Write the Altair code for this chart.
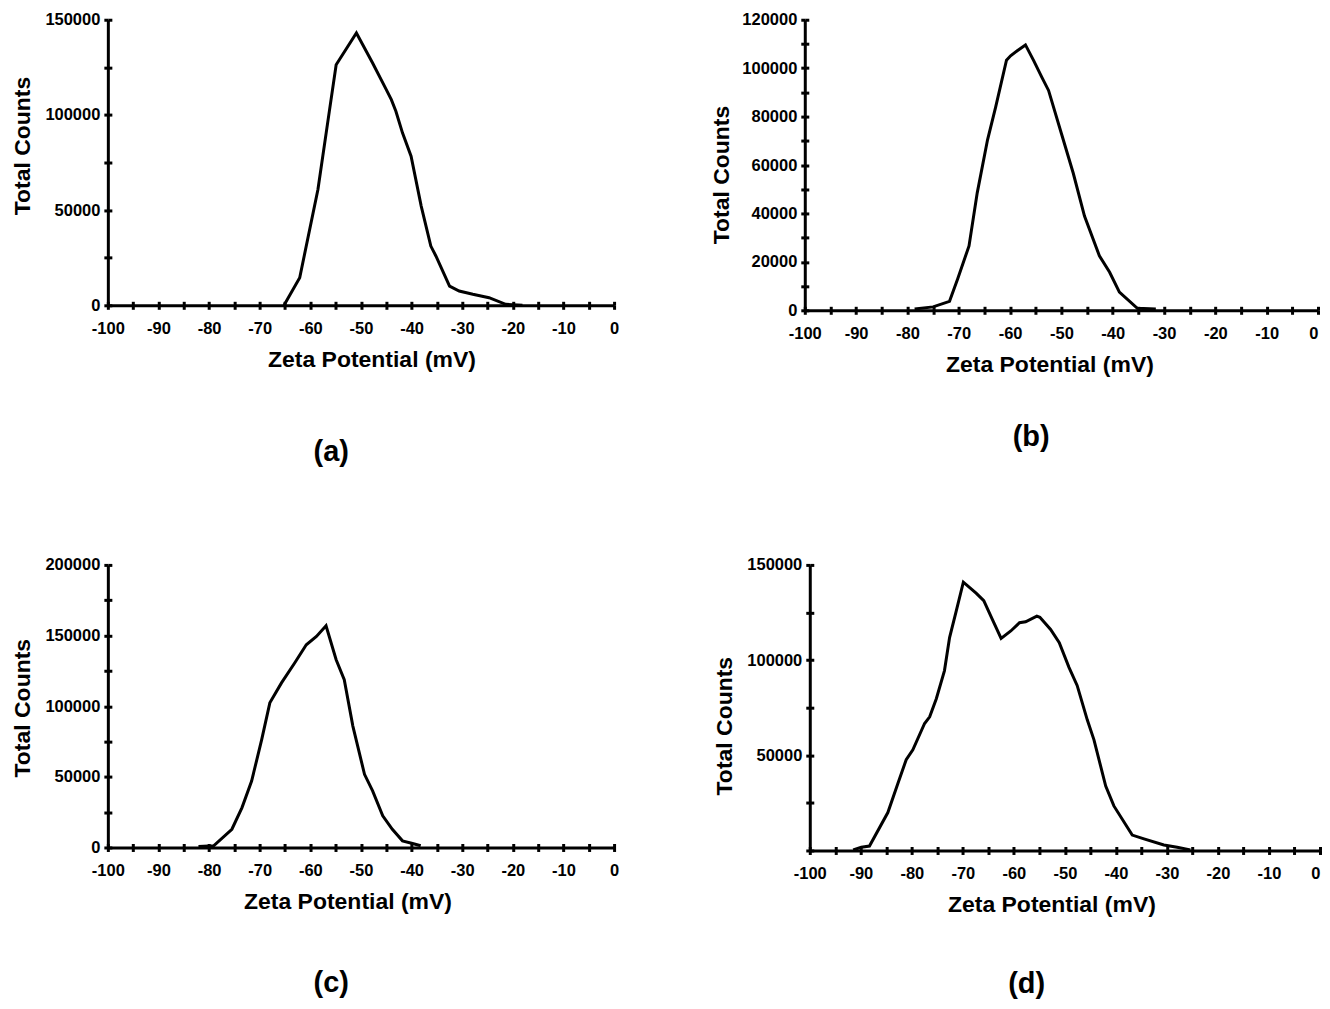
import altair as alt
import pandas as pd

# ---------------- data ----------------
a_zeta = [-65.2, -62.1, -58.5, -56.2, -54.9, -50.9, -47.7, -45.0, -44.0, -43.1, -41.8,
          -40.1, -38.1, -36.2, -35.2, -32.5, -30.6, -27.9, -24.7, -21.4, -18.1]
a_counts = [0, 14500, 60800, 102800, 126400, 143000, 127300, 113300, 108000, 101900, 90600,
            78300, 52100, 31100, 25900, 10100, 7500, 5800, 4000, 500, 0]

b_zeta = [-78.6, -75.0, -71.8, -70.2, -68.0, -66.4, -64.4, -62.8, -60.7, -59.9, -58.6,
          -57.0, -55.4, -53.8, -52.5, -50.0, -47.7, -45.5, -42.6, -40.6, -38.7, -35.2, -31.6]
b_counts = [500, 1400, 3700, 13000, 26600, 48500, 70300, 84000, 103300, 105100, 107200,
            109600, 103100, 96200, 90800, 73000, 56700, 38900, 22500, 15700, 7500, 800, 500]

c_zeta = [-82.1, -79.1, -75.5, -73.5, -71.6, -69.6, -68.0, -65.7, -63.1, -60.8, -58.8,
          -56.9, -54.9, -53.3, -51.6, -49.3, -47.7, -45.7, -43.8, -41.8, -39.8, -38.2]
c_counts = [700, 1200, 12900, 28200, 47000, 76500, 102400, 116500, 130600, 143500, 149400,
            156900, 132900, 118800, 85900, 51800, 40000, 22400, 12900, 4700, 2800, 1200]

d_zeta = [-91.5, -89.9, -88.3, -84.7, -82.7, -81.1, -79.8, -77.5, -76.5, -75.2, -73.6,
          -72.6, -71.3, -69.9, -67.4, -65.9, -64.2, -62.5, -60.6, -58.9, -57.7, -55.5,
          -54.9, -52.8, -51.1, -49.2, -47.6, -45.6, -44.3, -42.0, -40.4, -36.8, -34.5,
          -30.6, -28.0, -25.4]
d_counts = [300, 1700, 2300, 19900, 35500, 47700, 52900, 66700, 70200, 79700, 94500,
            111800, 125700, 140900, 135200, 131200, 121300, 111400, 115300, 119600, 120100, 123100,
            122500, 116100, 109200, 96200, 86700, 68500, 58100, 33800, 23400, 8100, 6100,
            2900, 1700, 300]

x_ticks = list(range(-100, 1, 5))
panel_labels = ["(a)", "(b)", "(c)", "(d)"]
x_title = "Zeta Potential (mV)"
y_title = "Total Counts"

FONT = "Liberation Sans"


def panel(zeta, counts, ymax, ytick_step, ylabel_step, width, height, label,
          hide_zero=False, title_offset=58, title_dx=10, flush_zero=False,
          xtitle_x=None, ytitle_y=None, ytitle_pad=10):
    df = pd.DataFrame({"zeta": zeta, "counts": counts})
    y_ticks = list(range(0, ymax + 1, ytick_step))
    ylab_expr = f"datum.value % {ylabel_step} == 0 ? '' + datum.value : ''"
    if hide_zero:
        ylab_expr = (f"(datum.value % {ylabel_step} == 0 && datum.value != 0) "
                     f"? '' + datum.value : ''")

    xscale = alt.Scale(domain=[-100, 0], nice=False, zero=False)
    yscale = alt.Scale(domain=[0, ymax], nice=False)

    x_label_align = "center"
    if flush_zero:
        x_label_align = alt.condition("datum.value == 0", alt.value("right"), alt.value("center"))

    x_axis_kw = dict(orient="bottom", values=x_ticks,
                     labelExpr="datum.value % 10 == 0 ? '' + datum.value : ''",
                     labelOverlap=False, labelFlush=False, labelAlign=x_label_align,
                     tickSize=4, tickWidth=3, tickColor="black",
                     domainWidth=3, domainColor="black",
                     labelFont=FONT, labelFontSize=16.5, labelFontWeight="bold",
                     labelColor="black", labelPadding=11,
                     title=x_title, titleFont=FONT, titleFontSize=23,
                     titleFontWeight="bold", titleColor="black", titlePadding=12,
                     grid=False)
    if xtitle_x is not None:
        x_axis_kw["titleX"] = xtitle_x
        x_axis_kw["titleAlign"] = "center"

    y_axis_kw = dict(orient="left", values=y_ticks,
                     labelExpr=ylab_expr, labelOverlap=False, labelFlush=False,
                     tickSize=4, tickWidth=3, tickColor="black",
                     domainWidth=3, domainColor="black",
                     labelFont=FONT, labelFontSize=16.5, labelFontWeight="bold",
                     labelColor="black", labelPadding=4,
                     title=y_title, titleFont=FONT, titleFontSize=23,
                     titleFontWeight="bold", titleColor="black", titlePadding=ytitle_pad,
                     grid=False)
    if ytitle_y is not None:
        y_axis_kw["titleY"] = ytitle_y

    main = alt.Chart(df).mark_line(color="black", strokeWidth=3).encode(
        x=alt.X("zeta:Q", scale=xscale, axis=alt.Axis(**x_axis_kw)),
        y=alt.Y("counts:Q", scale=yscale, axis=alt.Axis(**y_axis_kw)),
    )
    inner = alt.Chart(df).mark_line(strokeOpacity=0).encode(
        x=alt.X("zeta:Q", scale=xscale,
                axis=alt.Axis(orient="bottom", values=x_ticks, labels=False, domain=False,
                              tickSize=4, tickWidth=3, tickColor="black", offset=-4,
                              title=None, grid=False)),
        y=alt.Y("counts:Q", scale=yscale,
                axis=alt.Axis(orient="left", values=y_ticks, labels=False, domain=False,
                              tickSize=4, tickWidth=3, tickColor="black", offset=-4,
                              title=None, grid=False)),
    )
    return alt.layer(main, inner).resolve_axis(x="independent", y="independent").properties(
        width=width, height=height,
        title=alt.TitleParams(label, orient="bottom", anchor="middle", frame="bounds",
                              font=FONT, fontSize=29, fontWeight="bold", color="black",
                              offset=title_offset, dx=title_dx),
    )


pa = panel(a_zeta, a_counts, 150000, 25000, 50000, 507, 286, panel_labels[0],
           title_offset=66, title_dx=16, xtitle_x=264, ytitle_y=126)
pb = panel(b_zeta, b_counts, 120000, 10000, 20000, 514, 291, panel_labels[1],
           title_offset=46, title_dx=16, flush_zero=True, xtitle_x=245, ytitle_y=155,
           ytitle_pad=8)
pc = panel(c_zeta, c_counts, 200000, 25000, 50000, 507, 283, panel_labels[2],
           title_offset=55, title_dx=16, xtitle_x=240, ytitle_y=143)
pd_ = panel(d_zeta, d_counts, 150000, 25000, 50000, 511, 286, panel_labels[3],
            hide_zero=True, title_offset=53, title_dx=9, flush_zero=True,
            xtitle_x=242, ytitle_y=161)

chart = alt.vconcat(
    alt.hconcat(pa, pb, spacing=90),
    alt.hconcat(pc, pd_, spacing=93),
    spacing=89,
).configure_view(stroke="transparent").properties(
    padding={"left": 3, "top": 2, "right": 0, "bottom": 0},
    background="white",
)

chart.save("out.html", embed_options={"renderer": "svg", "actions": False})
